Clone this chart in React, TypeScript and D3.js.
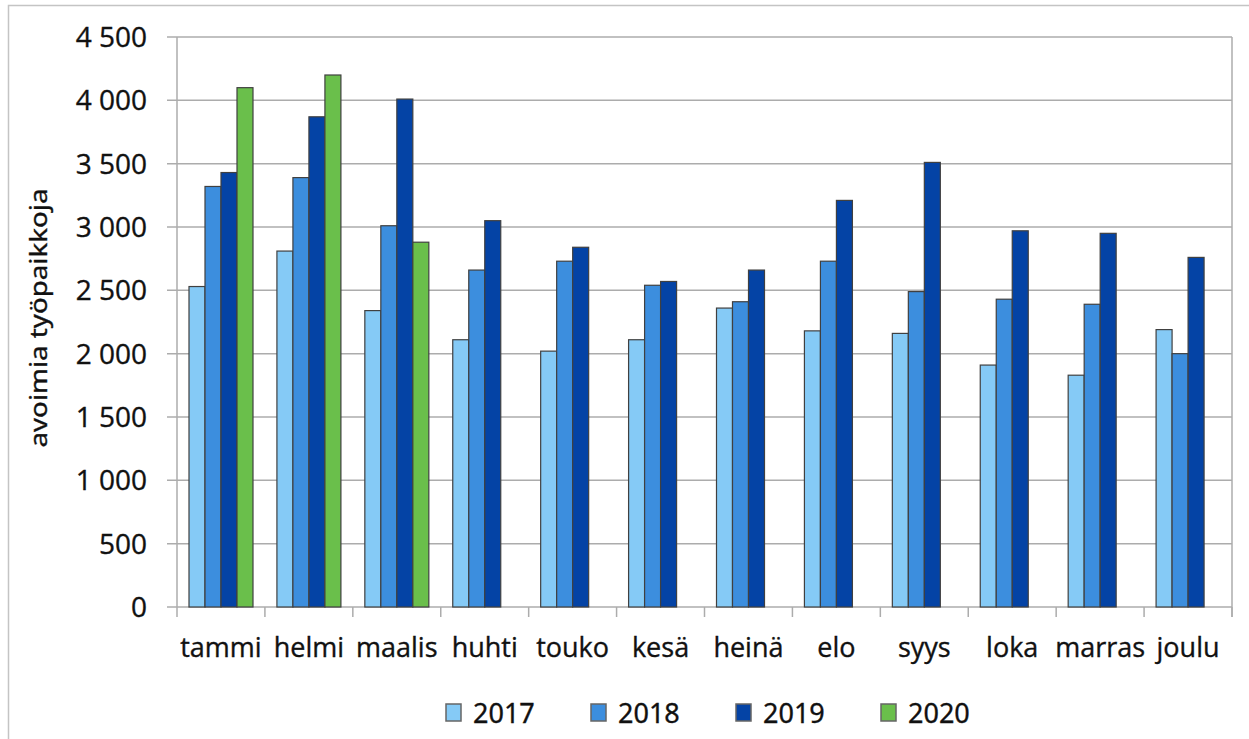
import React from 'react'
import * as d3 from 'd3'

const months = ['tammi', 'helmi', 'maalis', 'huhti', 'touko', 'kesä', 'heinä', 'elo', 'syys', 'loka', 'marras', 'joulu']
const years = ['2017', '2018', '2019', '2020']
const v2017 = [2530, 2810, 2340, 2110, 2020, 2110, 2360, 2180, 2160, 1910, 1830, 2190]
const v2018 = [3320, 3390, 3010, 2660, 2730, 2540, 2410, 2730, 2490, 2430, 2390, 2000]
const v2019 = [3430, 3870, 4010, 3050, 2840, 2570, 2660, 3210, 3510, 2970, 2950, 2760]
const v2020 = [4100, 4200, 2880]
const yTicks = [0, 500, 1000, 1500, 2000, 2500, 3000, 3500, 4000, 4500]
const colors = ['#85caf6', '#3c8ede', '#0443a5', '#6abf4b']

const W = 1249
const H = 739
const m = { left: 177, right: 1232, top: 37, bottom: 607 }

const fmt = (v: number) => d3.format(',')(v).replace(',', ' ')

// a thin outline makes the text look as heavy as the reference rendering
const ink = { fill: '#111', stroke: '#111', strokeWidth: 0.35 }

export default function App() {
  const series = [v2017, v2018, v2019, v2020]

  const x = d3.scaleBand().domain(months).range([m.left, m.right]).padding(0)
  const xi = d3.scaleBand().domain(years).range([12, 76]).padding(0)
  const y = d3.scaleLinear().domain([0, 4500]).range([m.bottom, m.top])

  const boundaries = d3.range(months.length + 1).map((i) => m.left + i * x.bandwidth())

  return (
    <svg width={W} height={H} style={{ position: 'absolute', left: 0, top: 0 }}>
      <rect width={W} height={H} fill="#fff" />
      {/* outer frame */}
      <path d={`M8.5,${H} V5.5 H${W}`} fill="none" stroke="#c4c4c4" strokeWidth={1.5} />

      {/* gridlines */}
      {yTicks.map((t) => (
        <line key={'g' + t} x1={m.left - 10} x2={m.right} y1={y(t)} y2={y(t)} stroke="#acacac" strokeWidth={1.5} />
      ))}
      <line x1={m.left} x2={m.left} y1={m.top} y2={m.bottom} stroke="#acacac" strokeWidth={1.5} />
      <line x1={m.right} x2={m.right} y1={m.top} y2={m.bottom + 10} stroke="#acacac" strokeWidth={1.5} />
      {boundaries.map((b, i) => (
        <line key={'b' + i} x1={b} x2={b} y1={m.bottom} y2={m.bottom + 10} stroke="#acacac" strokeWidth={1.5} />
      ))}

      {/* bars */}
      {series.map((s, si) =>
        s.map((v, i) => (
          <rect
            key={si + '-' + i}
            x={(x(months[i]) || 0) + (xi(years[si]) || 0)}
            y={y(v)}
            width={xi.bandwidth()}
            height={y(0) - y(v)}
            fill={colors[si]}
            stroke="#404040"
            strokeWidth={1.2}
          />
        ))
      )}

      {/* y tick labels */}
      {yTicks.map((t) => (
        <text key={'t' + t} x={147} y={y(t)} dy="0.36em" textAnchor="end" fontFamily="Open Sans" fontSize={28} {...ink}>
          {fmt(t)}
        </text>
      ))}

      {/* month labels */}
      {months.map((mo) => (
        <text
          key={mo}
          x={(x(mo) || 0) + x.bandwidth() / 2}
          y={657}
          textAnchor="middle"
          fontFamily="Open Sans"
          fontSize={27}
          {...ink}
        >
          {mo}
        </text>
      ))}

      {/* y axis title */}
      <text
        transform="translate(47,318) rotate(-90)"
        textAnchor="middle"
        fontFamily="Noto Sans"
        fontSize={24}
        textLength={259}
        lengthAdjust="spacingAndGlyphs"
        {...ink}
      >
        avoimia työpaikkoja
      </text>

      {/* legend */}
      {years.map((yr, i) => (
        <g key={yr} transform={`translate(${446 + i * 145},0)`}>
          <rect x={0} y={704} width={15} height={17} fill={colors[i]} stroke="#666" strokeWidth={1.5} />
          <text x={27} y={723} fontFamily="Noto Sans" fontSize={27} {...ink}>
            {yr}
          </text>
        </g>
      ))}
    </svg>
  )
}
